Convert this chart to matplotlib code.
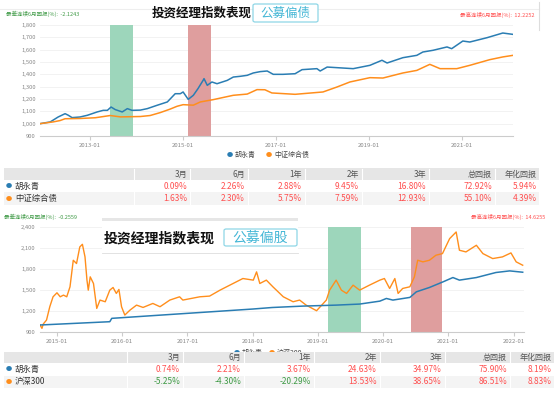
import numpy as np
import matplotlib.pyplot as plt
import matplotlib.patches as mpatches
from matplotlib.lines import Line2D

plt.rcParams['font.family'] = ['Noto Sans CJK SC', 'DejaVu Sans']

# --- 公募偏债 panel: decimal year / index value ---
bond_mgr_x = [2011.92, 2012.14, 2012.31, 2012.46, 2012.53, 2012.61, 2012.78, 2012.94, 2013.15, 2013.28,
              2013.37, 2013.45, 2013.54, 2013.69, 2013.80, 2013.90, 2014.08, 2014.23, 2014.44, 2014.66,
              2014.83, 2014.94, 2015.00, 2015.11, 2015.22, 2015.32, 2015.43, 2015.45, 2015.52, 2015.62,
              2015.73, 2015.95, 2016.08, 2016.23, 2016.38, 2016.51, 2016.66, 2016.81, 2016.94, 2017.15,
              2017.41, 2017.56, 2017.88, 2017.95, 2018.10, 2018.66, 2019.02, 2019.28, 2019.39, 2019.73,
              2020.03, 2020.16, 2020.38, 2020.68, 2020.78, 2021.02, 2021.17, 2021.54, 2021.88, 2022.10]
bond_mgr_y = [1000, 1014, 1054, 1081, 1068, 1049, 1054, 1068, 1095, 1108,
              1108, 1135, 1114, 1095, 1122, 1108, 1110, 1122, 1149, 1176,
              1243, 1243, 1257, 1197, 1230, 1284, 1351, 1365, 1311, 1338,
              1324, 1351, 1378, 1384, 1392, 1411, 1422, 1427, 1400, 1400,
              1405, 1438, 1446, 1427, 1459, 1446, 1473, 1514, 1492, 1535,
              1554, 1581, 1595, 1622, 1608, 1670, 1662, 1697, 1735, 1724]

bond_idx_x = [2011.92, 2012.20, 2012.35, 2012.46, 2012.78, 2013.11, 2013.43, 2013.65, 2014.08, 2014.29,
              2014.51, 2014.72, 2014.87, 2015.00, 2015.22, 2015.37, 2015.65, 2016.08, 2016.38, 2016.59,
              2016.76, 2016.91, 2017.41, 2018.01, 2018.31, 2018.59, 2019.02, 2019.30, 2019.73, 2020.03,
              2020.31, 2020.53, 2020.89, 2021.17, 2021.60, 2021.88, 2022.10]
bond_idx_y = [1000, 1014, 1025, 1040, 1042, 1048, 1066, 1055, 1058, 1066,
              1090, 1118, 1141, 1154, 1150, 1176, 1195, 1230, 1240, 1276,
              1275, 1249, 1238, 1257, 1297, 1338, 1373, 1370, 1411, 1432,
              1481, 1446, 1446, 1473, 1519, 1541, 1554]

# --- 公募偏股 panel ---
eq_mgr_x = [2014.74, 2015.81, 2015.84, 2016.99, 2018.00, 2018.30, 2018.77, 2019.28, 2019.64, 2019.95,
            2020.05, 2020.15, 2020.41, 2020.51, 2020.71, 2020.92, 2021.07, 2021.17, 2021.43, 2021.73,
            2021.94, 2022.14]
eq_mgr_y = [1000, 1047, 1095, 1166, 1228, 1250, 1270, 1284, 1299, 1341,
            1379, 1356, 1394, 1474, 1536, 1617, 1678, 1641, 1678, 1750,
            1773, 1754]

eq_idx_x = [2014.74, 2014.77, 2014.79, 2014.84, 2014.89, 2014.94, 2015.00, 2015.05, 2015.10, 2015.15,
            2015.20, 2015.25, 2015.30, 2015.35, 2015.39, 2015.43, 2015.46, 2015.48, 2015.51, 2015.56,
            2015.61, 2015.66, 2015.74, 2015.81, 2015.86, 2015.91, 2015.95, 2015.99, 2016.04, 2016.12,
            2016.22, 2016.32, 2016.47, 2016.58, 2016.73, 2016.88, 2016.93, 2017.19, 2017.34, 2017.50,
            2017.70, 2017.85, 2018.01, 2018.06, 2018.11, 2018.21, 2018.31, 2018.47, 2018.62, 2018.72,
            2018.82, 2018.98, 2019.13, 2019.18, 2019.28, 2019.36, 2019.44, 2019.54, 2019.64, 2019.79,
            2019.95, 2020.02, 2020.10, 2020.18, 2020.23, 2020.30, 2020.41, 2020.48, 2020.53, 2020.61,
            2020.71, 2020.81, 2020.91, 2021.02, 2021.12, 2021.17, 2021.27, 2021.43, 2021.53, 2021.68,
            2021.83, 2021.96, 2022.04, 2022.14]
eq_idx_y = [1000, 952, 1014, 1071, 1261, 1403, 1460, 1403, 1427, 1403,
            1546, 1925, 1878, 2115, 2153, 1973, 1641, 1498, 1688, 1593,
            1237, 1356, 1332, 1498, 1536, 1451, 1508, 1261, 1142, 1213,
            1284, 1251, 1308, 1261, 1356, 1403, 1356, 1403, 1413, 1498,
            1593, 1664, 1641, 1759, 1593, 1641, 1546, 1403, 1332, 1356,
            1284, 1204, 1356, 1498, 1641, 1498, 1451, 1569, 1498, 1569,
            1641, 1664, 1522, 1664, 1451, 1522, 1546, 1688, 1925, 1902,
            1925, 1997, 2020, 2234, 2329, 2068, 2044, 2139, 2020, 1949,
            1973, 2030, 1902, 1854]

# --- return tables ---
periods = ['3月', '6月', '1年', '2年', '3年', '总回报', '年化回报']
bond_names = ['胡永青', '中证综合债']
bond_mgr_ret = [0.09, 2.26, 2.88, 9.45, 16.80, 72.92, 5.94]
bond_idx_ret = [1.63, 2.30, 5.75, 7.59, 12.93, 55.10, 4.39]
eq_names = ['胡永青', '沪深300']
eq_mgr_ret = [0.74, 2.21, 3.67, 24.63, 34.97, 75.90, 8.19]
eq_idx_ret = [-5.25, -4.30, -20.29, 13.53, 38.65, 86.51, 8.83]

BLUE = '#2a7db3'
ORANGE = '#ff8e1c'
GREEN_BAND = '#9dd6bb'
RED_BAND = '#df9e9e'
POS = '#ff5050'
NEG = '#3f9a46'

W, H = 554, 395
fig = plt.figure(figsize=(W / 100, H / 100), dpi=100)


def box(l, t, r, b):
    return [l / W, 1 - b / H, (r - l) / W, (b - t) / H]


def fx(x):
    return x / W


def fy(y):
    return 1 - y / H


def style_axis(ax, ylim, yticks, xlim, xticks):
    ax.set_xlim(*xlim)
    ax.set_ylim(*ylim)
    ax.set_yticks(yticks)
    ax.set_yticklabels([f'{v:,}' for v in yticks])
    ax.set_xticks(xticks)
    ax.set_xticklabels([f'{int(v)}-01' for v in xticks])
    for s in ['top', 'right', 'left']:
        ax.spines[s].set_visible(False)
    ax.spines['bottom'].set_color('#cccccc')
    ax.tick_params(axis='y', length=0, labelsize=4.2, labelcolor='#888888', pad=3)
    ax.tick_params(axis='x', length=3, color='#cccccc', labelsize=4.3, labelcolor='#888888', pad=2)
    ax.grid(axis='y', color='#f0f0f0', linewidth=0.6)
    ax.set_axisbelow(True)


# ---------------- top chart ----------------
ax1 = fig.add_axes(box(40, 25, 513, 136))
ax1.axvspan(2013.43, 2013.92, color=GREEN_BAND, lw=0)
ax1.axvspan(2015.10, 2015.60, color=RED_BAND, lw=0)
ax1.plot(bond_mgr_x, bond_mgr_y, color=BLUE, lw=1.1)
ax1.plot(bond_idx_x, bond_idx_y, color=ORANGE, lw=1.1)
style_axis(ax1, (900, 1800), list(range(900, 1801, 100)), (2011.92, 2022.10),
           [2013, 2015, 2017, 2019, 2021])

# ---------------- bottom chart ----------------
ax2 = fig.add_axes(box(40, 227, 524, 332))
ax2.axvspan(2019.15, 2019.66, color=GREEN_BAND, lw=0)
ax2.axvspan(2020.42, 2020.90, color=RED_BAND, lw=0)
ax2.plot(eq_idx_x, eq_idx_y, color=ORANGE, lw=1.0)
ax2.plot(eq_mgr_x, eq_mgr_y, color=BLUE, lw=1.1)
style_axis(ax2, (900, 2400), list(range(900, 2401, 300)), (2014.74, 2022.16),
           list(range(2015, 2023)))

# decorations at top
fig.add_artist(Line2D([0, fx(539)], [fy(9), fy(9)], color='#eeeeee', lw=0.8))
fig.add_artist(Line2D([fx(539), fx(539)], [fy(2), fy(30)], color='#dddddd', lw=0.8))

fig.text(fx(6), fy(14), '最差连续6月回报(%):  -2.1243', fontsize=4, color=NEG, va='center')
fig.text(fx(535), fy(15), '最高连续6月回报(%):  12.2252', fontsize=4, color=POS, va='center', ha='right')
fig.text(fx(4), fy(217), '最差连续6月回报(%):  -0.2559', fontsize=4, color=NEG, va='center')
fig.text(fx(545), fy(217), '最高连续6月回报(%):  14.6255', fontsize=4, color=POS, va='center', ha='right')


def title_block(x0, yc, size, tag, tag_l, tag_r, tag_t, tag_b):
    fig.text(fx(x0), fy(yc), '投资经理指数表现', fontsize=size, fontweight='bold',
             color='#111111', va='center', ha='left', zorder=5)
    fig.add_artist(mpatches.FancyBboxPatch(
        (fx(tag_l), fy(tag_b)), fx(tag_r - tag_l), (tag_b - tag_t) / H,
        boxstyle='round,pad=0,rounding_size=0.004', transform=fig.transFigure,
        fc='white', ec='#8fd6e6', lw=0.9, zorder=4))
    fig.text(fx((tag_l + tag_r) / 2), fy((tag_t + tag_b) / 2), tag, fontsize=size,
             color='#45b7d6', va='center', ha='center', zorder=5)


# bottom title overlay panel
fig.add_artist(mpatches.Rectangle((fx(102), fy(253)), fx(196), 34 / H, transform=fig.transFigure,
                                  fc='white', ec='none', zorder=2))
fig.add_artist(mpatches.Rectangle((fx(102), fy(221)), fx(196), 3 / H, transform=fig.transFigure,
                                  fc='#e6e6e6', ec='none', zorder=3))
fig.add_artist(Line2D([fx(102), fx(298)], [fy(253), fy(253)], color='#dddddd', lw=0.6, zorder=3))

title_block(152, 13, 9, '公募偏债', 253, 318, 4, 22)
title_block(104, 238, 10, '公募偏股', 224, 297, 229, 246)


def legend(y, items):
    for xd, name, col in items:
        fig.text(fx(xd), fy(y), '●', fontsize=4.5, color=col, va='center', ha='center', zorder=1)
        fig.text(fx(xd + 5), fy(y), name, fontsize=5, color='#444444', va='center', zorder=1)


legend(155, [(230, bond_names[0], BLUE), (269, bond_names[1], ORANGE)])
legend(353, [(237, eq_names[0], BLUE), (272, eq_names[1], ORANGE)])


def table(top, left, right, seps, names, rows):
    rh = 12.5
    fig.add_artist(mpatches.Rectangle((fx(left), fy(top + 11.5)), fx(right - left), 11.5 / H,
                                      transform=fig.transFigure, fc='#e6e6e6', ec='none', zorder=6))
    r1 = top + 11.5
    r2 = r1 + rh
    fig.add_artist(mpatches.Rectangle((fx(left), fy(r2)), fx(right - left), (rh + 0.3) / H,
                                      transform=fig.transFigure, fc='white', ec='none', zorder=6))
    fig.add_artist(mpatches.Rectangle((fx(left), fy(r2 + rh)), fx(right - left), rh / H,
                                      transform=fig.transFigure, fc='#f4f4f4', ec='none', zorder=6))
    for s in seps[:-1]:
        fig.add_artist(Line2D([fx(s), fx(s)], [fy(top), fy(r2 + rh)], color='white', lw=0.8, zorder=7))
    for i, p in enumerate(periods):
        fig.text(fx(seps[i + 1] - 3), fy(top + 5.8), p, fontsize=5.8, color='#555555',
                 ha='right', va='center', zorder=8)
    for j, (name, vals, col) in enumerate(zip(names, rows, [BLUE, ORANGE])):
        yc = r1 + rh * j + rh / 2
        fig.text(fx(left + 5), fy(yc), '●', fontsize=4.5, color=col, ha='center', va='center', zorder=8)
        fig.text(fx(left + 11), fy(yc), name, fontsize=6, color='#333333', va='center', zorder=8)
        for i, v in enumerate(vals):
            fig.text(fx(seps[i + 1] - 3), fy(yc), f'{v:.2f}%', fontsize=6,
                     color=POS if v >= 0 else NEG, ha='right', va='center', zorder=8)


table(168.5, 4, 539, [134, 190, 248, 305, 362, 429, 495, 540], bond_names,
      [bond_mgr_ret, bond_idx_ret])
table(351.5, 4, 554, [127, 183, 244, 314, 380, 445, 510, 555], eq_names,
      [eq_mgr_ret, eq_idx_ret])

fig.savefig('out.png', dpi=100)
